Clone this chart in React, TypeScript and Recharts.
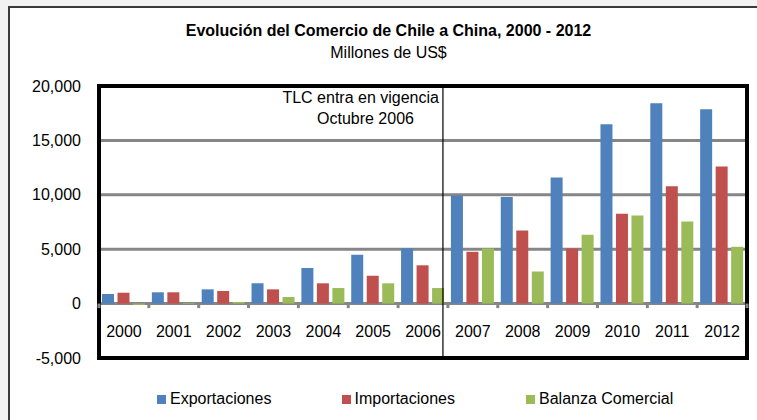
import React from 'react';
import {
  BarChart,
  Bar,
  XAxis,
  YAxis,
  CartesianGrid,
  ReferenceLine,
  ReferenceArea,
  ReferenceDot,
} from 'recharts';

const years = ['2000', '2001', '2002', '2003', '2004', '2005', '2006', '2007', '2008', '2009', '2010', '2011', '2012'];
const exportaciones = [880, 1040, 1310, 1865, 3270, 4490, 5080, 9920, 9800, 11600, 16490, 18420, 17870];
const importaciones = [1000, 1040, 1160, 1310, 1865, 2560, 3520, 4760, 6720, 5065, 8260, 10780, 12590];
const balanza = [-120, 60, 150, 605, 1430, 1865, 1430, 5065, 2950, 6325, 8100, 7550, 5220];
const yTicks = [-5000, 0, 5000, 10000, 15000, 20000];
const boundaries = [0, 1, 2, 3, 4, 5, 6, 7, 8, 9, 10, 11, 12, 13];
const tlcPosition = 6.9;
const seriesNames = ['Exportaciones', 'Importaciones', 'Balanza Comercial'];
const seriesColors = ['#4f81bd', '#c0504d', '#9bbb59'];
const titleText = 'Evolución del Comercio de Chile a China, 2000 - 2012';
const subtitleText = 'Millones de US$';
const noteLines = ['TLC entra en vigencia', 'Octubre 2006'];

const data = years.map((year, i) => ({
  year,
  pos: i + 0.5,
  exp: exportaciones[i],
  imp: importaciones[i],
  bal: balanza[i],
}));

const FONT = '"Liberation Sans", Arial, sans-serif';

const fmt = (v: number) => v.toLocaleString('en-US');

const CategoryTick = (props: any) => {
  const { x, y, payload } = props;
  return (
    <text x={x} y={y} dy={-21} textAnchor="middle" fontSize={16} fontFamily={FONT} fill="#000">
      {payload.value}
    </text>
  );
};

const NoteLabel = (props: any) => {
  const vb = props.viewBox || {};
  return (
    <g>
      <text x={vb.x - 4} y={vb.y + 16.5} textAnchor="end" fontSize={16} fontFamily={FONT} fill="#000">
        {noteLines[0]}
      </text>
      <text x={vb.x - 29} y={vb.y + 37.5} textAnchor="end" fontSize={16} fontFamily={FONT} fill="#000">
        {noteLines[1]}
      </text>
    </g>
  );
};

const TickMark = (props: any) => {
  const { cx, cy } = props;
  if (cx == null || cy == null) return <g />;
  return <rect x={cx - 1.5} y={cy} width={3} height={4.5} fill="#868686" />;
};

export default function App() {
  return (
    <div
      style={{
        position: 'absolute',
        left: 0,
        top: 0,
        width: 757,
        height: 420,
        background: '#f2f2f2',
        overflow: 'hidden',
      }}
    >
      <div
        style={{
          position: 'absolute',
          left: 8,
          top: 6,
          width: 800,
          height: 500,
          background: '#fff',
          borderLeft: '2px solid #3a3a3a',
          borderTop: '2px solid #3a3a3a',
        }}
      />
      <div
        style={{
          position: 'absolute',
          left: 0,
          top: 21,
          width: 777,
          textAlign: 'center',
          fontFamily: FONT,
          fontWeight: 'bold',
          fontSize: 16,
          lineHeight: '20px',
          color: '#000',
        }}
      >
        {titleText}
      </div>
      <div
        style={{
          position: 'absolute',
          left: 0,
          top: 43,
          width: 777,
          textAlign: 'center',
          fontFamily: FONT,
          fontSize: 16,
          lineHeight: '20px',
          color: '#000',
        }}
      >
        {subtitleText}
      </div>
      <div style={{ position: 'absolute', left: 0, top: 0 }}>
        <BarChart
          width={757}
          height={420}
          data={data}
          margin={{ top: 86, right: 10, bottom: 61, left: 0 }}
          barSize={12}
          barGap={3.5}
        >
          <CartesianGrid horizontal vertical={false} stroke="#868686" strokeWidth={3} />
          <XAxis
            dataKey="year"
            height={1}
            tickSize={0}
            tickMargin={0}
            axisLine={false}
            tickLine={false}
            interval={0}
            tick={<CategoryTick />}
          />
          <XAxis
            xAxisId="num"
            dataKey="pos"
            type="number"
            domain={[0, 13]}
            ticks={boundaries}
            hide
            allowDataOverflow
          />
          <YAxis
            width={99}
            domain={[-5000, 20000]}
            ticks={yTicks}
            tickFormatter={fmt}
            axisLine={false}
            tickLine={false}
            tickSize={0}
            tickMargin={18}
            tick={{ fontSize: 16, fontFamily: FONT, fill: '#000' }}
            allowDataOverflow
          />
          <Bar dataKey="exp" name={seriesNames[0]} fill={seriesColors[0]} isAnimationActive={false} />
          <Bar dataKey="imp" name={seriesNames[1]} fill={seriesColors[1]} isAnimationActive={false} />
          <Bar dataKey="bal" name={seriesNames[2]} fill={seriesColors[2]} isAnimationActive={false} />
          {boundaries.map((b) => (
            <ReferenceDot
              key={b}
              xAxisId="num"
              x={b}
              y={0}
              r={2}
              ifOverflow="visible"
              shape={<TickMark />}
            />
          ))}
          <ReferenceLine
            xAxisId="num"
            x={tlcPosition}
            stroke="#000"
            strokeWidth={1.2}
            ifOverflow="visible"
            label={<NoteLabel />}
          />
          <ReferenceArea
            xAxisId="num"
            x1={0}
            x2={13}
            y1={-5000}
            y2={20000}
            fill="none"
            fillOpacity={0}
            stroke="#000"
            strokeWidth={4}
            ifOverflow="visible"
          />
        </BarChart>
      </div>
      <div
        style={{
          position: 'absolute',
          left: 157,
          top: 389,
          display: 'flex',
          fontFamily: FONT,
          fontSize: 16,
          color: '#000',
        }}
      >
        {seriesNames.map((n, i) => (
          <div key={n} style={{ width: 184.5, display: 'flex', alignItems: 'center' }}>
            <span
              style={{
                width: 9,
                height: 9,
                background: seriesColors[i],
                display: 'inline-block',
                marginRight: 4,
              }}
            />
            <span style={{ lineHeight: '20px' }}>{n}</span>
          </div>
        ))}
      </div>
    </div>
  );
}
